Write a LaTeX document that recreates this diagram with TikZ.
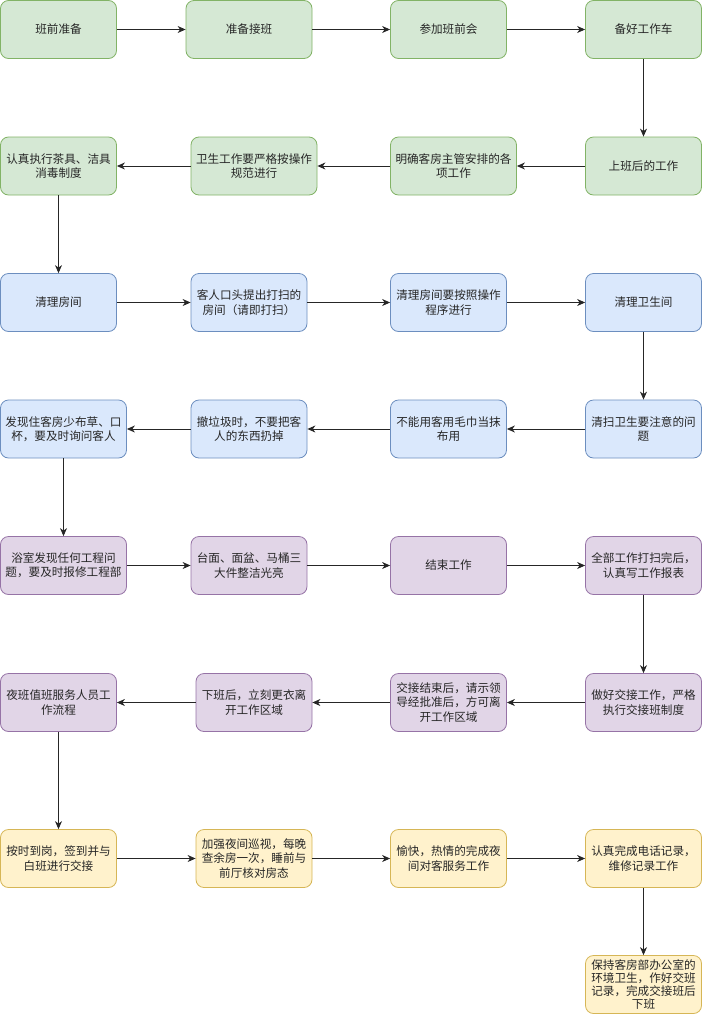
\documentclass[tikz,border=0pt]{standalone}
\usepackage{fontspec}
\newfontfamily\cjk{Noto Sans CJK SC}
\usepackage{xcolor}
\usetikzlibrary{arrows.meta}

\definecolor{gfill}{HTML}{D5E8D4}
\definecolor{gline}{HTML}{82B366}
\definecolor{bfill}{HTML}{DAE8FC}
\definecolor{bline}{HTML}{6C8EBF}
\definecolor{pfill}{HTML}{E1D5E7}
\definecolor{pline}{HTML}{9673A6}
\definecolor{yfill}{HTML}{FFF2CC}
\definecolor{yline}{HTML}{D6B656}

\begin{document}
\begin{tikzpicture}[
    x=1pt, y=-1pt,
    font=\cjk\fontsize{11.6}{14.3}\selectfont,
    box/.style={
        rectangle,
        rounded corners=8pt,
        minimum width=116pt,
        minimum height=58pt,
        inner sep=1pt,
        align=center,
        text=black!85,
        line width=0.8pt
    },
    wide/.style={minimum width=126pt},
    gbox/.style={box, draw=gline, fill=gfill},
    bbox/.style={box, draw=bline, fill=bfill},
    pbox/.style={box, draw=pline, fill=pfill},
    ybox/.style={box, draw=yline, fill=yfill},
    flow/.style={-{Stealth[length=8pt, width=7pt, inset=2.5pt]}, line width=0.9pt, draw=black!85}
]

\useasboundingbox (0,0) rectangle (703,1015);

\def\ya{29.5}
\def\yb{166}
\def\yc{302.5}
\def\yd{429}
\def\ye{565.5}
\def\yf{702.5}
\def\yg{858.5}
\def\yh{984.5}

% Row 1
\node[gbox] (pre)  at (58.5, \ya) {班前准备};
\node[gbox, wide] (take) at (249, \ya) {准备接班};
\node[gbox] (meet) at (448.5, \ya) {参加班前会};
\node[gbox] (cart) at (643.5, \ya) {备好工作车};

% Row 2
\node[gbox] (work) at (643.5, \yb) {上班后的工作};
\node[gbox, wide] (task) at (453.5, \yb) {明确客房主管安排的各\\项工作};
\node[gbox, wide] (norm) at (254, \yb) {卫生工作要严格按操作\\规范进行};
\node[gbox] (tea)  at (58.5, \yb) {认真执行茶具、洁具\\消毒制度};

% Row 3
\node[bbox] (room) at (58.5, \yc) {清理房间};
\node[bbox] (ask)  at (249, \yc) {客人口头提出打扫的\\房间（请即打扫）};
\node[bbox] (rule) at (448.5, \yc) {清理房间要按照操作\\程序进行};
\node[bbox] (bath) at (643.5, \yc) {清理卫生间};

% Row 4
\node[bbox] (note) at (643.5, \yd) {清扫卫生要注意的问\\题};
\node[bbox] (towel) at (448.5, \yd) {不能用客用毛巾当抹\\布用};
\node[bbox] (trash) at (249, \yd) {撤垃圾时，不要把客\\人的东西扔掉};
\node[bbox, wide] (lack) at (63.5, \yd) {发现住客房少布草、口\\杯，要及时询问客人};

% Row 5
\node[pbox, wide] (fix) at (63.5, \ye) {浴室发现任何工程问\\题，要及时报修工程部};
\node[pbox] (sink) at (249, \ye) {台面、面盆、马桶三\\大件整洁光亮};
\node[pbox] (end)  at (448.5, \ye) {结束工作};
\node[pbox] (rep)  at (643.5, \ye) {全部工作打扫完后，\\认真写工作报表};

% Row 6
\node[pbox] (hand) at (643.5, \yf) {做好交接工作，严格\\执行交接班制度};
\node[pbox] (lead) at (448.5, \yf) {交接结束后，请示领\\导经批准后，方可离\\开工作区域};
\node[pbox] (off)  at (254, \yf) {下班后，立刻更衣离\\开工作区域};
\node[pbox] (night) at (58.5, \yf) {夜班值班服务人员工\\作流程};

% Row 7
\node[ybox] (sign) at (58.5, \yg) {按时到岗，签到并与\\白班进行交接};
\node[ybox] (patrol) at (254, \yg) {加强夜间巡视，每晚\\查余房一次，睡前与\\前厅核对房态};
\node[ybox] (serve) at (448.5, \yg) {愉快，热情的完成夜\\间对客服务工作};
\node[ybox] (log)  at (643.5, \yg) {认真完成电话记录，\\维修记录工作};

% Row 8
\node[ybox, font=\cjk\fontsize{11.6}{12.8}\selectfont] (leave) at (643.5, \yh) {保持客房部办公室的\\环境卫生，作好交班\\记录，完成交接班后\\下班};

% Flow
\draw[flow] (pre) -- (take);
\draw[flow] (take) -- (meet);
\draw[flow] (meet) -- (cart);
\draw[flow] (cart) -- (work);
\draw[flow] (work) -- (task);
\draw[flow] (task) -- (norm);
\draw[flow] (norm) -- (tea);
\draw[flow] (tea) -- (room);
\draw[flow] (room) -- (ask);
\draw[flow] (ask) -- (rule);
\draw[flow] (rule) -- (bath);
\draw[flow] (bath) -- (note);
\draw[flow] (note) -- (towel);
\draw[flow] (towel) -- (trash);
\draw[flow] (trash) -- (lack);
\draw[flow] (lack) -- (fix);
\draw[flow] (fix) -- (sink);
\draw[flow] (sink) -- (end);
\draw[flow] (end) -- (rep);
\draw[flow] (rep) -- (hand);
\draw[flow] (hand) -- (lead);
\draw[flow] (lead) -- (off);
\draw[flow] (off) -- (night);
\draw[flow] (night) -- (sign);
\draw[flow] (sign) -- (patrol);
\draw[flow] (patrol) -- (serve);
\draw[flow] (serve) -- (log);
\draw[flow] (log) -- (leave);

\end{tikzpicture}
\end{document}
